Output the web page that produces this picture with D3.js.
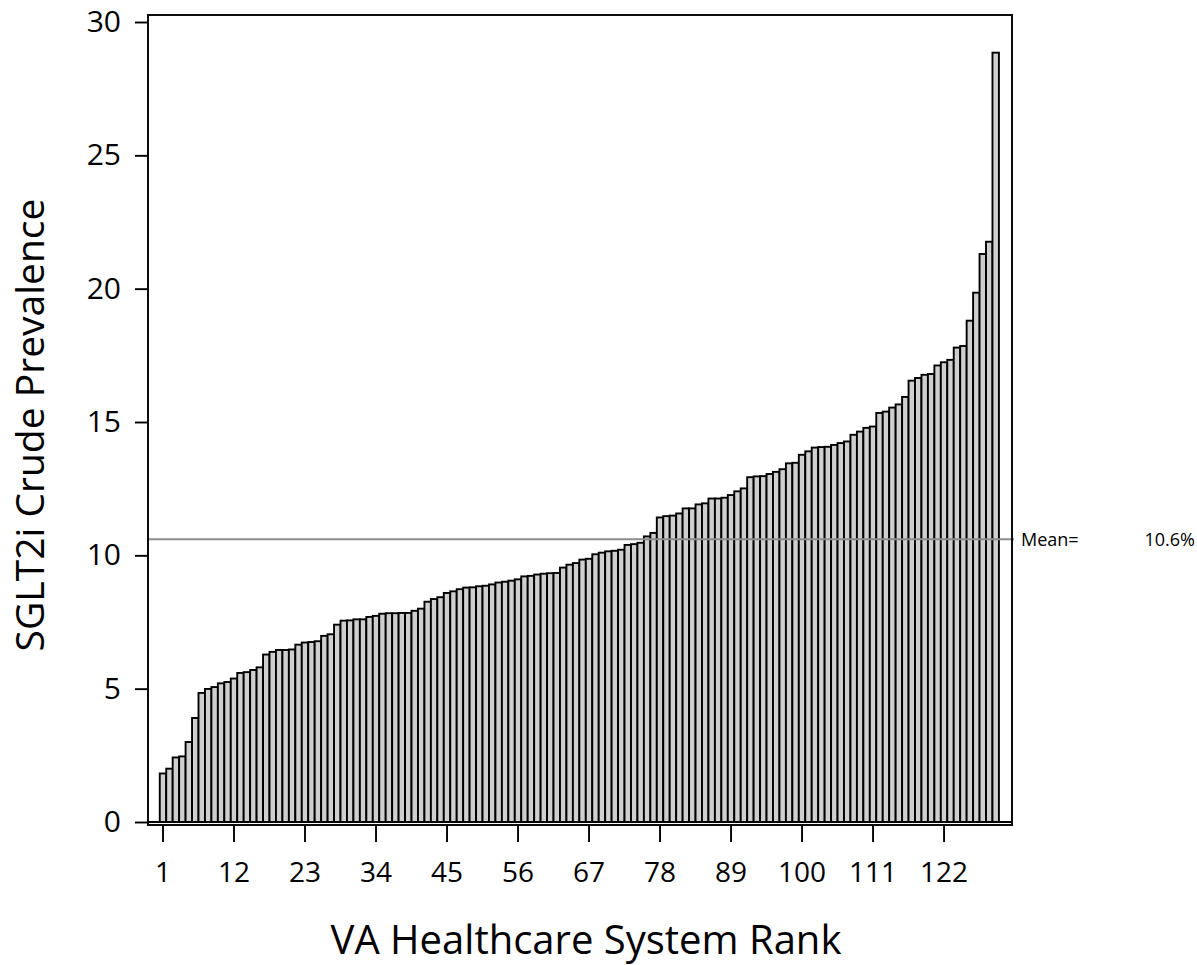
<!DOCTYPE html>
<html>
<head>
<meta charset="utf-8">
<script src="https://cdn.jsdelivr.net/npm/d3@7"></script>
<style>
  html, body { margin: 0; padding: 0; background: #fff; }
  svg { display: block; }
  text { font-family: "Open Sans", "Noto Sans", sans-serif; fill: #000; }
</style>
</head>
<body>
<script>
// ---- data ----
const prevalence = [
  1.82, 2.00, 2.42, 2.46, 3.00, 3.90, 4.84, 4.99, 5.06, 5.20,
  5.25, 5.38, 5.59, 5.62, 5.70, 5.80, 6.28, 6.38, 6.45, 6.45,
  6.47, 6.65, 6.73, 6.75, 6.78, 6.98, 7.04, 7.40, 7.55, 7.56,
  7.60, 7.60, 7.69, 7.73, 7.81, 7.83, 7.83, 7.84, 7.84, 7.92,
  8.00, 8.26, 8.36, 8.43, 8.59, 8.65, 8.73, 8.79, 8.80, 8.84,
  8.86, 8.91, 8.98, 9.01, 9.05, 9.10, 9.21, 9.23, 9.28, 9.31,
  9.33, 9.34, 9.54, 9.65, 9.71, 9.84, 9.87, 10.04, 10.10, 10.15,
  10.17, 10.21, 10.39, 10.42, 10.47, 10.71, 10.84, 11.42, 11.47, 11.49,
  11.57, 11.76, 11.76, 11.91, 11.95, 12.13, 12.13, 12.16, 12.26, 12.40,
  12.51, 12.93, 12.96, 12.97, 13.05, 13.13, 13.23, 13.45, 13.47, 13.77,
  13.90, 14.04, 14.06, 14.07, 14.14, 14.21, 14.27, 14.52, 14.64, 14.78,
  14.83, 15.34, 15.39, 15.54, 15.66, 15.94, 16.55, 16.65, 16.77, 16.80,
  17.12, 17.24, 17.33, 17.79, 17.85, 18.80, 19.85, 21.30, 21.76, 28.85
];
const ranks = prevalence.map((v, i) => i + 1);
const xTickValues = [1, 12, 23, 34, 45, 56, 67, 78, 89, 100, 111, 122];
const yTickValues = [0, 5, 10, 15, 20, 25, 30];
const meanValue = 10.6;
const meanLabel = "Mean=";
const meanValueLabel = "10.6%";
const xTitle = "VA Healthcare System Rank";
const yTitle = "SGLT2i Crude Prevalence";

// ---- layout ----
const W = 1197, H = 965;
const frame = { left: 148, right: 1012, top: 15, bottom: 825 };

const svg = d3.select("body").append("svg").attr("width", W).attr("height", H);

const step = 6.455;
const x = d3.scaleBand()
  .domain(ranks)
  .range([163 - step / 2, 163 - step / 2 + step * ranks.length])
  .paddingInner(0).paddingOuter(0);

const y = d3.scaleLinear().domain([0, 30]).range([822, 22]);

// bars
svg.append("g")
  .selectAll("rect")
  .data(ranks)
  .join("rect")
  .attr("x", r => x(r))
  .attr("width", x.bandwidth())
  .attr("y", r => y(prevalence[r - 1]))
  .attr("height", r => y(0) - y(prevalence[r - 1]))
  .attr("fill", "#cfcfcf")
  .attr("stroke", "#000")
  .attr("stroke-width", 1.9);

// baseline at zero
svg.append("line")
  .attr("x1", frame.left).attr("x2", frame.right)
  .attr("y1", y(0)).attr("y2", y(0))
  .attr("stroke", "#000").attr("stroke-width", 1.9);

// mean reference line
svg.append("line")
  .attr("x1", frame.left).attr("x2", frame.right + 2)
  .attr("y1", y(meanValue)).attr("y2", y(meanValue))
  .attr("stroke", "#8c8c8c").attr("stroke-width", 2);

const meanText = svg.append("text")
  .attr("y", y(meanValue) + 7)
  .attr("font-size", 18);
meanText.append("tspan").attr("x", 1021).text(meanLabel);
meanText.append("tspan").attr("x", 1195).attr("text-anchor", "end").text(meanValueLabel);

// frame
svg.append("rect")
  .attr("x", frame.left).attr("y", frame.top)
  .attr("width", frame.right - frame.left)
  .attr("height", frame.bottom - frame.top)
  .attr("fill", "none").attr("stroke", "#000").attr("stroke-width", 1.9);

// y axis
const yAxis = svg.append("g")
  .attr("transform", `translate(${frame.left},0)`)
  .call(d3.axisLeft(y).tickValues(yTickValues).tickSize(13).tickPadding(14));
yAxis.select(".domain").remove();
yAxis.selectAll(".tick line").attr("stroke", "#000").attr("stroke-width", 1.9);
yAxis.selectAll(".tick text").attr("font-size", 30).attr("font-family", "Open Sans, Noto Sans, sans-serif").attr("fill", "#000");

// x axis
const xAxis = svg.append("g")
  .attr("transform", `translate(0,${frame.bottom})`)
  .call(d3.axisBottom(x).tickValues(xTickValues).tickSize(17).tickPadding(20));
xAxis.select(".domain").remove();
xAxis.selectAll(".tick line").attr("stroke", "#000").attr("stroke-width", 1.9);
xAxis.selectAll(".tick text").attr("font-size", 28).attr("font-family", "Open Sans, Noto Sans, sans-serif").attr("fill", "#000");

// titles
svg.append("text")
  .attr("x", 586).attr("y", 954)
  .attr("text-anchor", "middle")
  .attr("font-size", 40)
  .text(xTitle);

svg.append("text")
  .attr("transform", "translate(44,425) rotate(-90)")
  .attr("text-anchor", "middle")
  .attr("font-size", 39)
  .text(yTitle);
</script>
</body>
</html>
